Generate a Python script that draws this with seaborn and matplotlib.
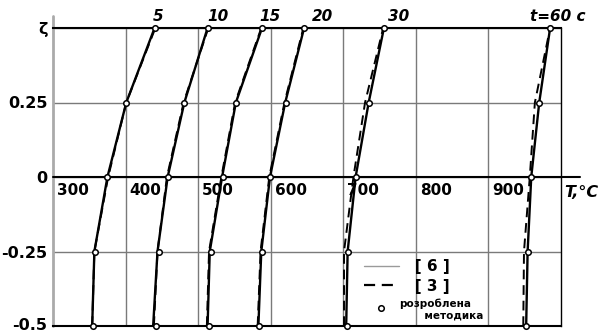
import pandas as pd
import matplotlib
matplotlib.use("Agg")
import matplotlib.pyplot as plt
import seaborn as sns
from matplotlib.lines import Line2D


# =========================
# Data
# =========================

zeta = [0.5, 0.25, 0.0, -0.25, -0.5]
times = [5, 10, 15, 20, 30, 60]
curve_labels = ["5", "10", "15", "20", "30", "t=60 c"]

# developed method (circles)
T_method = {
    5: [440, 401, 375, 358, 355],
    10: [513, 481, 458, 446, 442],
    15: [588, 552, 534, 518, 515],
    20: [646, 621, 599, 588, 584],
    30: [756, 735, 717, 706, 705],
    60: [985, 970, 959, 954, 952],
}

# reference [6] (solid)
T_ref6 = {
    5: [440, 401, 375, 357, 354],
    10: [513, 481, 458, 444, 438],
    15: [588, 552, 533, 516, 513],
    20: [646, 620, 599, 587, 583],
    30: [756, 735, 717, 706, 704],
    60: [985, 970, 959, 954, 952],
}

# reference [3] (dashed)
T_ref3 = {
    5: [441, 401, 376, 357, 354],
    10: [514, 480, 457, 444, 439],
    15: [587, 551, 532, 515, 512],
    20: [645, 619, 598, 586, 582],
    30: [755, 730, 714, 701, 701],
    60: [985, 964, 957, 949, 948],
}

x_labels = [300, 400, 500, 600, 700, 800, 900]
y_ticks = [-0.5, -0.25, 0, 0.25, 0.5]
y_ticklabels = ["-0.5", "-0.25", "0", "0.25", "ζ"]


def to_long(d):
    rows = []
    for t in times:
        for z, T in zip(zeta, d[t]):
            rows.append({"t": t, "zeta": z, "T": T})
    return pd.DataFrame(rows)


df6 = to_long(T_ref6)
df3 = to_long(T_ref3)
dfm = to_long(T_method)


# =========================
# Plot
# =========================

sns.set_style("white")
plt.rcParams["font.family"] = ["DejaVu Sans"]
plt.rcParams["text.color"] = "black"
plt.rcParams["ytick.color"] = "black"
plt.rcParams["xtick.color"] = "black"

fig = plt.figure(figsize=(6.05, 3.33), dpi=100)
ax = fig.add_axes([53 / 605, 7 / 333, 508 / 605, 298 / 333])

sns.lineplot(data=df6, x="T", y="zeta", units="t", estimator=None,
             orient="y", color="black", lw=1.7, ax=ax, clip_on=False)
sns.lineplot(data=df3, x="T", y="zeta", units="t", estimator=None,
             orient="y", color="black", lw=1.4, linestyle=(0, (5, 3)),
             ax=ax, clip_on=False)
sns.scatterplot(data=dfm, x="T", y="zeta", marker="o", s=16,
                color="white", edgecolor="black", linewidth=1.1,
                zorder=5, clip_on=False, ax=ax)

ax.set_xlim(300, 1000)
ax.set_ylim(-0.5, 0.5)
ax.set_xlabel("")
ax.set_ylabel("")

ax.set_xticks([400, 500, 600, 700, 800, 900])
ax.set_xticklabels([])
ax.set_yticks(y_ticks)
ax.set_yticklabels(y_ticklabels, fontsize=11.5, fontweight="bold")
ax.tick_params(length=0, pad=4)
ax.get_yticklabels()[0].set_va("center")
ax.grid(True, color="#7a7a7a", lw=1)

for side in ["top", "bottom"]:
    ax.spines[side].set_color("black")
    ax.spines[side].set_linewidth(1.5)
ax.spines["right"].set_color("black")
ax.spines["right"].set_linewidth(1)
ax.spines["left"].set_visible(False)

# left axis (gray, sticks out above) and the zeta=0 axis
ax.plot([0, 0], [0, 1.04], transform=ax.transAxes, color="#aaaaaa",
        lw=2, clip_on=False, zorder=1)
ax.plot([0, 1.037], [0.5, 0.5], transform=ax.transAxes, color="black",
        lw=1.5, clip_on=False, zorder=3)

# temperature labels under the zero line
for v in x_labels:
    ax.annotate(str(v), xy=(v, 0), xytext=(3, -4), textcoords="offset points",
                ha="left", va="top", fontsize=11, fontweight="bold")

ax.text(1005, -0.067, "T,°C", fontsize=11.5, fontweight="bold",
        style="italic", ha="left", va="baseline", clip_on=False)

# time labels above the curves
label_T = [437, 512, 585, 657, 761, 957]
for T, lab in zip(label_T, curve_labels):
    ax.text(T, 0.522, lab, fontsize=11, fontweight="bold", style="italic",
            ha="left", va="baseline", clip_on=False)

# legend
handles = [
    Line2D([], [], color="#9a9a9a", lw=1),
    Line2D([], [], color="black", lw=1.6, linestyle=(0, (5, 3))),
    Line2D([], [], ls="", marker="o", mfc="white", mec="black", ms=4, mew=1.1),
]
leg = ax.legend(handles, ["   [ 6 ]", "   [ 3 ]", "розроблена\n       методика"],
                loc="upper left", bbox_to_anchor=(0.6, 0.245), frameon=False,
                handlelength=2.3, handletextpad=0.0, labelspacing=0.3,
                prop={"weight": "bold", "size": 11}, borderaxespad=0)
leg.get_texts()[2].set_fontsize(7.5)

fig.savefig("out.png", dpi=100)
